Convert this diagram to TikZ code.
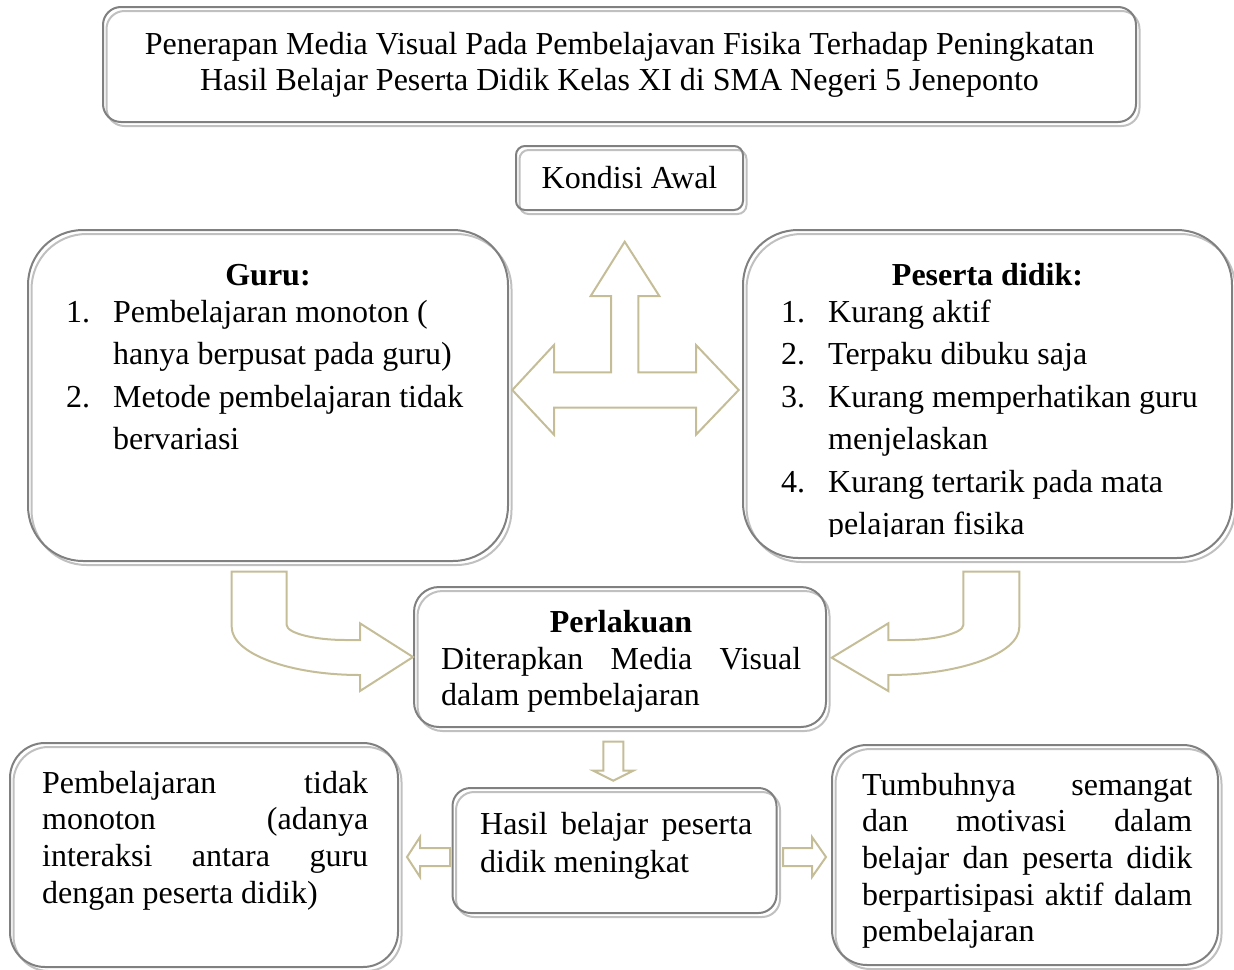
\documentclass[tikz,border=0pt]{standalone}
\usepackage{fontspec}
\setmainfont{Liberation Serif}
\usetikzlibrary{shadows}

\definecolor{garis}{RGB}{128,128,128}
\definecolor{bayang}{RGB}{192,192,192}
\definecolor{coklat}{RGB}{196,189,151}

\newcommand{\butir}[1]{\makebox[47pt][l]{#1}}
\newcommand{\lanjut}{\hspace*{47pt}}

\begin{document}
\begin{tikzpicture}[x=1pt, y=-1pt,
    kotak/.style={draw=garis, line width=2pt, rounded corners=#1, inner sep=0pt,
      drop shadow={shadow xshift=3.5pt, shadow yshift=-4pt, fill=none,
        draw=bayang, line width=2pt, opacity=1}},
    kotak/.default=18pt,
    teks/.style={inner sep=0pt, font=\fontsize{32}{36}\selectfont},
    tebal/.style={teks, font=\fontsize{32}{36}\selectfont\bfseries},
    rata/.style={teks, text width=#1, align=justify},
    daftar/.style={teks, text width=#1, align=justify, font=\fontsize{32}{42.5}\selectfont},
    panah/.style={draw=coklat, line width=2pt, line join=miter}]

\useasboundingbox (0,0) rectangle (1234,969);

% kotak-kotak
\node[kotak, teks, align=center, minimum width=1033pt, minimum height=115pt] (judul) at (619.5,64.5)
  {Penerapan Media Visual Pada Pembelajavan Fisika Terhadap Peningkatan\\
   Hasil Belajar Peserta Didik Kelas XI di SMA Negeri 5 Jeneponto};
\node[kotak=9pt, teks, minimum width=227pt, minimum height=64pt] (awal) at (629.5,178) {Kondisi Awal};
\node[kotak=55pt, minimum width=480pt, minimum height=331pt] (guru) at (268,395.5) {};
\node[kotak=55pt, minimum width=489pt, minimum height=328pt] (siswa) at (987.5,394) {};
\node[kotak=25pt, minimum width=412pt, minimum height=140pt] (perlakuan) at (620,657) {};
\node[kotak, minimum width=324pt, minimum height=125pt] (hasil) at (614.5,850.5) {};
\node[kotak=35pt, minimum width=388pt, minimum height=224pt] (dampakguru) at (204,855) {};
\node[kotak=35pt, minimum width=386pt, minimum height=220pt] (dampaksiswa) at (1025,855) {};

% isi kotak
\node[tebal, anchor=base] (guru-judul) at (guru.center |- 0,285) {Guru:};
\node[daftar=420pt, anchor=base west] (guru-isi) at (66,322)
  {\butir{1.}Pembelajaran monoton (\\
   \lanjut hanya berpusat pada guru)\\
   \butir{2.}Metode pembelajaran tidak\\
   \lanjut bervariasi};

\node[tebal, anchor=base] (siswa-judul) at (siswa.center |- 0,285) {Peserta didik:};
\begin{scope}
  \clip (740,230) rectangle (1236,536);
  \node[daftar=440pt, anchor=base west] (siswa-isi) at (781,322)
    {\butir{1.}Kurang aktif\\
     \butir{2.}Terpaku dibuku saja\\
     \butir{3.}Kurang memperhatikan guru\\
     \lanjut menjelaskan\\
     \butir{4.}Kurang tertarik pada mata\\
     \lanjut pelajaran fisika};
\end{scope}

\node[tebal, anchor=base] (perlakuan-judul) at (621,632) {Perlakuan};
\node[rata=360pt, anchor=base west] (perlakuan-isi) at (441,669)
  {Diterapkan Media Visual\linebreak dalam pembelajaran};

\node[rata=272pt, anchor=base west, font=\fontsize{32}{38}\selectfont] (hasil-isi) at (480,834)
  {Hasil belajar peserta\linebreak didik meningkat};

\node[rata=326pt, anchor=base west, font=\fontsize{32}{36.7}\selectfont] (dampakguru-isi) at (42,793)
  {Pembelajaran tidak\linebreak monoton (adanya\linebreak interaksi antara guru\linebreak
   dengan peserta didik)};

\node[rata=330pt, anchor=base west, font=\fontsize{32}{36.7}\selectfont] (dampaksiswa-isi) at (862,795)
  {Tumbuhnya semangat\linebreak dan motivasi dalam\linebreak belajar dan peserta didik\linebreak
   berpartisipasi aktif dalam\linebreak pembelajaran};

% panah tiga arah di bawah kondisi awal
\draw[panah] (624.7,241.7) -- (659.3,296) -- (638.3,296) -- (638.3,372.3) -- (696,372.3)
  -- (696,345) -- (738.7,390) -- (696,434.7) -- (696,407.7) -- (554,407.7) -- (554,434.7)
  -- (512.3,390) -- (554,345) -- (554,372.3) -- (611,372.3) -- (611,296) -- (590.7,296) -- cycle;

% panah belok dari guru dan siswa ke perlakuan
\draw[panah] (231.7,571.7) -- (286.7,571.7) -- (286.7,625)
  .. controls (286.7,633) and (314,640) .. (345,640) -- (360,640) -- (360,623.3)
  -- (perlakuan.west) -- (360,691) -- (360,675)
  .. controls (289.1,675) and (231.7,653.5) .. (231.7,627) -- cycle;
\draw[panah] (1019.3,571.7) -- (963.3,571.7) -- (963.3,625)
  .. controls (963.3,633) and (936,640) .. (905,640) -- (888.3,640) -- (888.3,623.3)
  -- (831.7,657.7) -- (888.3,691) -- (888.3,675)
  .. controls (960.6,675) and (1019.3,653.5) .. (1019.3,627) -- cycle;

% panah kecil ke bawah dan ke samping
\draw[panah] (603.3,741.7) -- (623.3,741.7) -- (623.3,770.7) -- (633.3,770.7)
  -- (613.3,780.7) -- (593.3,770.7) -- (603.3,770.7) -- cycle;
\draw[panah] (450,848) -- (420,848) -- (420,837) -- (407,857) -- (420,877) -- (420,866) -- (450,866) -- cycle;
\draw[panah] (783,848) -- (812,848) -- (812,837) -- (826,857) -- (812,877) -- (812,866) -- (783,866) -- cycle;
\end{tikzpicture}
\end{document}
